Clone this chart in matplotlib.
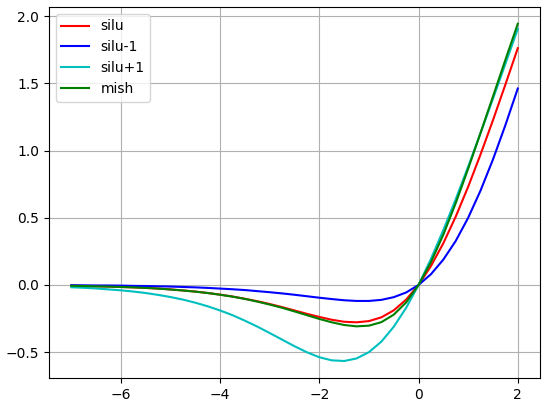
import matplotlib
matplotlib.use('Agg')
import matplotlib.pyplot as plt

# x samples (step 0.25)
x = [-7.0, -6.75, -6.5, -6.25, -6.0, -5.75, -5.5, -5.25, -5.0, -4.75, -4.5, -4.25,
     -4.0, -3.75, -3.5, -3.25, -3.0, -2.75, -2.5, -2.25, -2.0, -1.75, -1.5, -1.25,
     -1.0, -0.75, -0.5, -0.25, 0.0, 0.25, 0.5, 0.75, 1.0, 1.25, 1.5, 1.75, 2.0]

silu = [-0.006, -0.008, -0.010, -0.012, -0.015, -0.018, -0.022, -0.027, -0.033, -0.041,
        -0.049, -0.060, -0.072, -0.086, -0.103, -0.121, -0.142, -0.165, -0.190, -0.215,
        -0.238, -0.259, -0.274, -0.278, -0.269, -0.241, -0.189, -0.109, 0.0, 0.141,
        0.311, 0.509, 0.731, 0.972, 1.226, 1.491, 1.762]

silu_m1 = [-0.002, -0.003, -0.004, -0.004, -0.005, -0.007, -0.008, -0.010, -0.012, -0.015,
           -0.018, -0.022, -0.027, -0.032, -0.038, -0.046, -0.054, -0.063, -0.073, -0.084,
           -0.095, -0.105, -0.114, -0.119, -0.119, -0.111, -0.091, -0.056, 0.0, 0.080,
           0.189, 0.328, 0.500, 0.703, 0.934, 1.189, 1.462]

silu_p1 = [-0.017, -0.021, -0.026, -0.033, -0.040, -0.049, -0.060, -0.074, -0.090, -0.109,
           -0.132, -0.159, -0.190, -0.225, -0.266, -0.310, -0.358, -0.407, -0.456, -0.501,
           -0.538, -0.561, -0.566, -0.547, -0.500, -0.422, -0.311, -0.170, 0.0, 0.194,
           0.409, 0.639, 0.881, 1.131, 1.386, 1.645, 1.905]

mish = [-0.006, -0.008, -0.010, -0.012, -0.015, -0.018, -0.022, -0.027, -0.034, -0.041,
        -0.050, -0.060, -0.073, -0.087, -0.104, -0.124, -0.146, -0.170, -0.197, -0.225,
        -0.253, -0.278, -0.298, -0.308, -0.303, -0.277, -0.221, -0.130, 0.0, 0.170,
        0.375, 0.610, 0.865, 1.132, 1.403, 1.675, 1.944]

fig = plt.figure(figsize=(5.5, 4.05), dpi=100)
ax = fig.add_subplot(111)
fig.subplots_adjust(left=0.089, right=0.982, top=0.983, bottom=0.067)

ax.plot(x, silu, 'r', label='silu')
ax.plot(x, silu_m1, 'b', label='silu-1')
ax.plot(x, silu_p1, 'c', label='silu+1')
ax.plot(x, mish, 'g', label='mish')
ax.grid(True)
ax.legend(loc='upper left')

fig.savefig('out.png', dpi=100)
